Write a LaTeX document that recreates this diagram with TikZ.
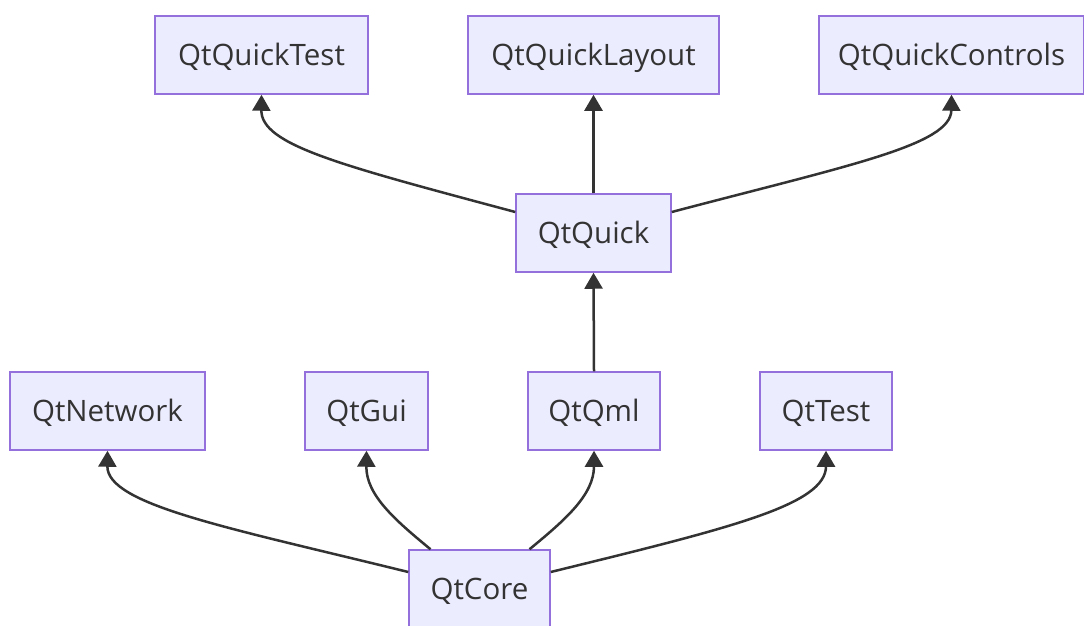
\documentclass[tikz,border=0pt]{standalone}
\usepackage{fontspec}
\setmainfont{Open Sans}
\usetikzlibrary{arrows.meta}
\definecolor{nodefill}{HTML}{ECECFF}
\definecolor{nodeline}{HTML}{9370DB}
\definecolor{ink}{HTML}{333333}
\tikzset{
  box/.style={draw=nodeline, fill=nodefill, line width=1.5pt, text=ink,
    font=\fontsize{29.5}{34}\selectfont, inner sep=0pt, anchor=center,
    text height=21pt, text depth=0pt},
  link/.style={draw=ink, line width=2.5pt, -{Triangle[width=18pt,length=16pt]}},
}
\begin{document}
\begin{tikzpicture}[x=1pt,y=-1pt]
\useasboundingbox (0,0) rectangle (1084,626);
\node[box, minimum width=213pt, minimum height=78pt] (qqt) at (261.5,55) {QtQuickTest};
\node[box, minimum width=251pt, minimum height=78pt] (qql) at (593.5,55) {QtQuickLayout};
\node[box, minimum width=265pt, minimum height=78pt] (qqc) at (951.5,55) {QtQuickControls};
\node[box, minimum width=155pt, minimum height=78pt] (qq) at (593.5,233) {QtQuick};
\node[box, minimum width=195pt, minimum height=78pt] (qn) at (107.5,411) {QtNetwork};
\node[box, minimum width=123pt, minimum height=78pt] (qg) at (366.5,411) {QtGui};
\node[box, minimum width=132pt, minimum height=78pt] (qm) at (594,411) {QtQml};
\node[box, minimum width=132pt, minimum height=78pt] (qt) at (826,411) {QtTest};
\node[box, minimum width=141pt, minimum height=77pt] (qc) at (479.5,588.5) {QtCore};

\path[link] (qc.west |- 0,572) .. controls (230,528) and (107,505) .. (qn.south);
\path[link] ([xshift=-49pt]qc.north) .. controls (395,520) and (366,495) .. (qg.south);
\path[link] ([xshift=50pt]qc.north) .. controls (565,520) and (594,495) .. (qm.south);
\path[link] (qc.east |- 0,572) .. controls (730,528) and (826,505) .. (qt.south);
\path[link] (qm.north) -- (qq.south);
\path[link] (qq.west |- 0,212) .. controls (340,165) and (261,145) .. (qqt.south);
\path[link] (qq.north) -- (qql.south);
\path[link] (qq.east |- 0,212) .. controls (850,165) and (951,145) .. (qqc.south);
\end{tikzpicture}
\end{document}
